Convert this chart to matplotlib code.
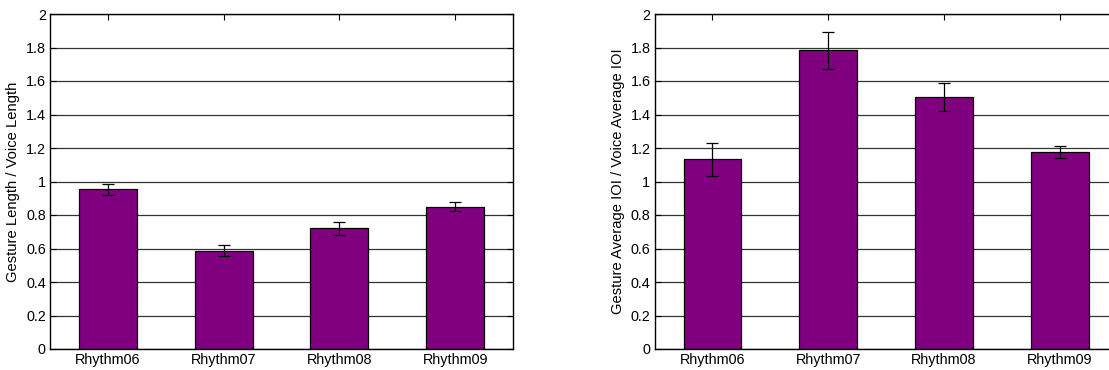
import matplotlib
matplotlib.use("Agg")
import matplotlib.pyplot as plt
from matplotlib.ticker import FuncFormatter

plt.rcParams['font.family'] = ['Liberation Sans', 'DejaVu Sans']

categories = ["Rhythm06", "Rhythm07", "Rhythm08", "Rhythm09"]
length_ratio = [0.953, 0.587, 0.720, 0.850]
length_err = [0.035, 0.031, 0.037, 0.026]
ioi_ratio = [1.132, 1.783, 1.504, 1.178]
ioi_err = [0.098, 0.109, 0.082, 0.036]
yticks = [0, 0.2, 0.4, 0.6, 0.8, 1.0, 1.2, 1.4, 1.6, 1.8, 2.0]

fig = plt.figure(figsize=(11.09, 3.70), dpi=100)
ax1 = fig.add_axes([50/1109, 21/370, 463/1109, 335/370])
ax2 = fig.add_axes([654.6/1109, 21/370, 463/1109, 335/370])

def draw(ax, vals, errs, ylabel):
    x = list(range(1, len(categories) + 1))
    ax.set_axisbelow(True)
    ax.yaxis.grid(True, color='#333333', linewidth=0.9)
    ax.bar(x, vals, width=0.5, color='#800080', edgecolor='black', linewidth=0.9, zorder=2)
    ax.errorbar(x, vals, yerr=errs, fmt='none', ecolor='black', elinewidth=0.9,
                capsize=4, capthick=0.9, zorder=3)
    ax.set_xlim(0.5, 4.5)
    ax.set_ylim(0, 2)
    ax.set_xticks(x)
    ax.set_xticklabels(categories)
    ax.set_yticks(yticks)
    ax.yaxis.set_major_formatter(FuncFormatter(lambda v, p: f"{v:g}"))
    ax.tick_params(direction='in', top=True, right=True, labelsize=10.4, length=4,
                   width=0.8, pad=3)
    ax.tick_params(axis='x', bottom=False)
    for s in ax.spines.values():
        s.set_linewidth(1.0)
        s.set_color('black')
    ax.set_ylabel(ylabel, fontsize=10.6, labelpad=4)

draw(ax1, length_ratio, length_err, "Gesture Length / Voice Length")
draw(ax2, ioi_ratio, ioi_err, "Gesture Average IOI / Voice Average IOI")

fig.savefig("out.png", dpi=100)
